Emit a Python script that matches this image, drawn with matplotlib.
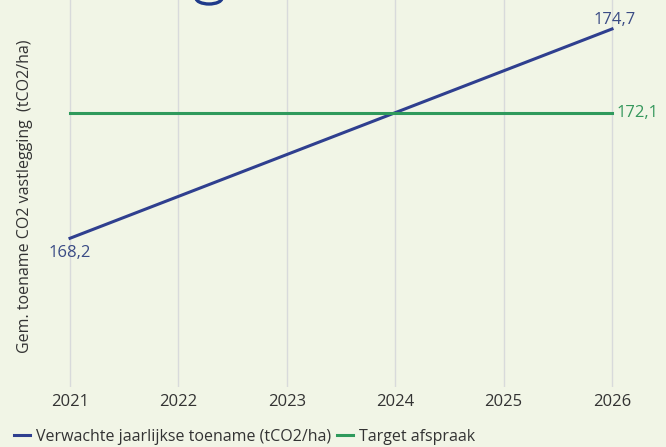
import matplotlib.pyplot as plt
from matplotlib.patches import Arc
from matplotlib.transforms import IdentityTransform

# gegevens
jaren = [2021, 2026]
verwacht = [168.2, 174.7]
target = [172.1, 172.1]
jaar_ticks = [2021, 2022, 2023, 2024, 2025, 2026]

bg = "#f1f5e6"
blauw = "#2f3f8f"
groen = "#2f9a5c"
tekst = "#333333"

plt.rcParams['font.family'] = ['Open Sans', 'DejaVu Sans']

fig = plt.figure(figsize=(6.66, 4.47), dpi=100, facecolor=bg)
ax = fig.add_axes([0, 1 - 387 / 447, 1, 387 / 447])
ax.set_facecolor(bg)

ax.plot(jaren, verwacht, color=blauw, linewidth=2.2, label="Verwachte jaarlijkse toename (tCO2/ha)")
ax.plot(jaren, target, color=groen, linewidth=2.2, label="Target afspraak")

# labels bij de punten
ax.annotate("168,2", (jaren[0], verwacht[0]), xytext=(0, -5), textcoords="offset points",
            ha="center", va="top", color="#3a4b85", fontsize=12)
ax.annotate("174,7", (jaren[1], verwacht[1]), xytext=(2, 1), textcoords="offset points",
            ha="center", va="bottom", color="#3a4b85", fontsize=12)
ax.annotate("172,1", (jaren[1], target[1]), xytext=(3, 0), textcoords="offset points",
            ha="left", va="center", color="#35975c", fontsize=12)

ax.set_xlim(2020.354, 2026.498)
ax.set_ylim(163.58, 175.6)
ax.set_xticks(jaar_ticks)
ax.set_xticklabels([str(j) for j in jaar_ticks])
ax.set_yticks([])
ax.grid(True, axis="x", color="#d8dadb", linewidth=1)
ax.tick_params(axis="x", length=0, pad=5, labelsize=12, labelcolor=tekst)
for s in ax.spines.values():
    s.set_visible(False)

fig.text(25 / 666, 1 - 196 / 447, "Gem. toename CO2 vastlegging  (tCO2/ha)", rotation=90,
         ha="center", va="center", fontsize=11.5, color=tekst)

# onderkant van een titelletter die boven afgesneden is
fig.patches.append(Arc((209, 449), 26, 12, theta1=180, theta2=360, color="#1f3a8a",
                       linewidth=2.4, transform=IdentityTransform(), figure=fig))

fig.legend(loc="center left", bbox_to_anchor=(14 / 666, 10 / 447), ncol=2, frameon=False,
           fontsize=11.5, handlelength=1.0, handletextpad=0.35, columnspacing=0.4,
           labelcolor=tekst, borderaxespad=0, borderpad=0)

fig.savefig("out.png", dpi=100, facecolor=bg)
